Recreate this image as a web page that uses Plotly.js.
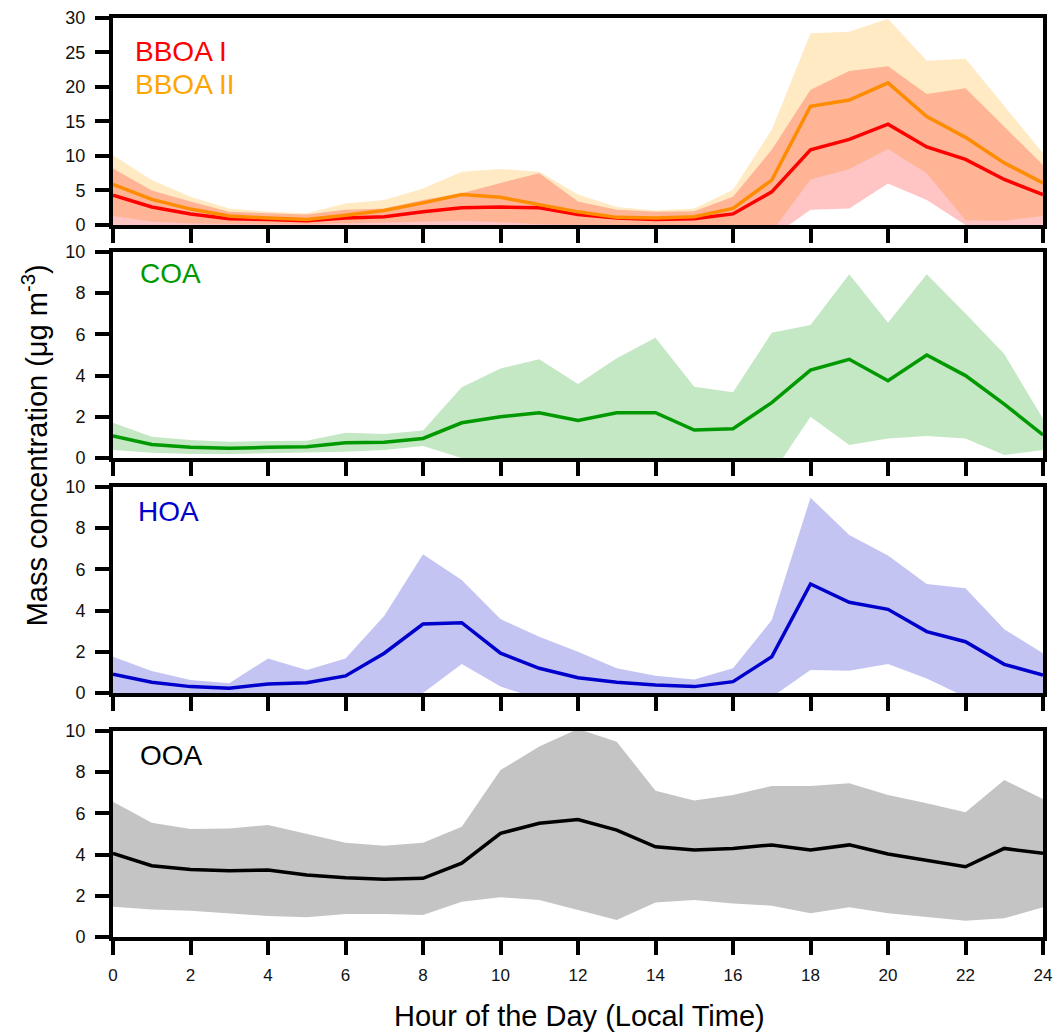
<!DOCTYPE html>
<html>
<head>
<meta charset="utf-8">
<script src="https://cdn.plot.ly/plotly-3.0.1.min.js"></script>
<style>html,body{margin:0;padding:0;background:#fff;}#chart{width:1060px;height:1036px;}</style>
</head>
<body>
<div id="chart"></div>
<script>
// Hour of day
var hours = [0,1,2,3,4,5,6,7,8,9,10,11,12,13,14,15,16,17,18,19,20,21,22,23,24];
var xTickVals = [0,2,4,6,8,10,12,14,16,18,20,22,24];

// BBOA I
var bboa1      = [4.3,2.6,1.6,0.9,0.8,0.6,1.0,1.2,1.9,2.5,2.6,2.5,1.5,1.0,0.8,0.9,1.6,4.8,10.9,12.4,14.6,11.3,9.5,6.6,4.4];
var bboa1Upper = [8.2,5.0,3.4,1.9,1.7,1.5,2.2,2.4,3.6,4.6,6.1,7.5,3.4,2.2,1.9,2.0,4.1,10.9,19.6,22.3,23.0,19.0,19.8,14.3,8.7];
var bboa1Lower = [0,0,0,0,0,0,0,0,0,0,0,0,0,0,0,0,0,-1.8,2.2,2.4,6.0,3.6,0,0,0];
// BBOA II
var bboa2      = [5.9,3.7,2.3,1.3,1.0,0.8,1.4,2.1,3.2,4.4,4.0,2.9,1.9,1.1,1.0,1.2,2.4,6.5,17.2,18.1,20.6,15.7,12.7,9.0,6.1];
var bboa2Upper = [10.1,6.5,4.1,2.4,1.9,1.7,3.1,3.6,5.3,7.7,8.1,7.7,4.4,2.6,2.1,2.4,5.1,13.8,27.8,28.0,29.9,23.8,24.1,17.2,10.4];
var bboa2Lower = [1.3,0.5,0.2,0.1,0.1,0.1,0.2,0.3,0.5,0.6,0.4,0.1,0,0,0,0,0,-1.0,6.6,8.1,11.0,7.5,0.7,0.6,1.3];
// COA
var coa      = [1.07,0.66,0.52,0.47,0.52,0.55,0.74,0.77,0.95,1.71,2.0,2.2,1.82,2.2,2.2,1.36,1.42,2.69,4.27,4.79,3.75,5.0,4.0,2.62,1.12];
var coaUpper = [1.71,1.03,0.87,0.79,0.82,0.84,1.23,1.17,1.33,3.43,4.35,4.79,3.59,4.84,5.84,3.46,3.19,6.08,6.46,8.92,6.57,8.92,7.02,5.05,1.9];
var coaLower = [0.39,0.26,0.19,0.19,0.23,0.26,0.31,0.39,0.58,0,0,0,0,0,0,0,0,-0.8,2.0,0.63,0.95,1.07,0.95,0.15,0.39];
// HOA
var hoa      = [0.91,0.52,0.31,0.23,0.44,0.50,0.83,1.93,3.35,3.41,1.93,1.2,0.74,0.52,0.39,0.31,0.55,1.76,5.29,4.4,4.06,2.98,2.49,1.39,0.87];
var hoaUpper = [1.76,1.07,0.63,0.47,1.68,1.12,1.68,3.75,6.73,5.49,3.59,2.73,2.0,1.2,0.84,0.66,1.2,3.54,9.48,7.67,6.67,5.29,5.08,3.09,1.93];
var hoaLower = [0,0,0,0,0,0,0,0,0,1.41,0.31,-0.3,0,0,0,0,0,-0.2,1.12,1.08,1.41,0.71,-0.2,0,0];
// OOA
var ooa      = [4.06,3.46,3.28,3.22,3.25,3.01,2.88,2.80,2.85,3.58,5.03,5.52,5.70,5.19,4.38,4.22,4.30,4.47,4.22,4.47,4.03,3.74,3.41,4.30,4.06];
var ooaUpper = [6.57,5.55,5.24,5.27,5.44,5.0,4.58,4.43,4.58,5.35,8.1,9.24,10.1,9.48,7.1,6.62,6.89,7.33,7.33,7.46,6.89,6.49,6.05,7.62,6.70];
var ooaLower = [1.47,1.34,1.28,1.15,1.02,0.96,1.12,1.12,1.07,1.71,1.93,1.80,1.31,0.83,1.67,1.80,1.63,1.52,1.15,1.44,1.15,0.96,0.79,0.91,1.44];

var FONT = "Arial, 'Liberation Sans', sans-serif";
var traces = [];
function band(lo, up, fillColor, xa, ya) {
  traces.push({x: hours, y: lo, type: 'scatter', mode: 'lines', line: {width: 0, color: 'rgba(0,0,0,0)'}, xaxis: xa, yaxis: ya, hoverinfo: 'skip'});
  traces.push({x: hours, y: up, type: 'scatter', mode: 'lines', fill: 'tonexty', fillcolor: fillColor, line: {width: 0, color: 'rgba(0,0,0,0)'}, xaxis: xa, yaxis: ya, hoverinfo: 'skip'});
}
function line(y, color, xa, ya) {
  traces.push({x: hours, y: y, type: 'scatter', mode: 'lines', line: {width: 3.5, color: color}, xaxis: xa, yaxis: ya});
}
band(bboa2Lower, bboa2Upper, 'rgba(255,165,0,0.23)', 'x', 'y');
band(bboa1Lower, bboa1Upper, 'rgba(255,0,0,0.23)', 'x', 'y');
line(bboa1, '#ff0000', 'x', 'y');
line(bboa2, '#ff8c00', 'x', 'y');
band(coaLower, coaUpper, 'rgba(0,153,0,0.23)', 'x2', 'y2');
line(coa, '#009900', 'x2', 'y2');
band(hoaLower, hoaUpper, 'rgba(0,0,204,0.23)', 'x3', 'y3');
line(hoa, '#0000cc', 'x3', 'y3');
band(ooaLower, ooaUpper, 'rgba(0,0,0,0.23)', 'x4', 'y4');
line(ooa, '#000000', 'x4', 'y4');

function xax(anchor, labels) {
  return {anchor: anchor, domain: [0, 1], range: [0, 24], tickvals: xTickVals, showticklabels: labels,
    showline: true, linecolor: '#000', linewidth: 4, mirror: true, ticks: 'outside', ticklen: 14, tickwidth: 4, tickcolor: '#000',
    showgrid: false, zeroline: false, tickfont: {family: FONT, size: 17, color: '#111'}, ticklabelstandoff: 6};
}
function yax(anchor, domain, range, dtick) {
  return {anchor: anchor, domain: domain, range: range, dtick: dtick, tick0: 0,
    showline: true, linecolor: '#000', linewidth: 4, mirror: true, ticks: 'outside', ticklen: 14, tickwidth: 4, tickcolor: '#000',
    showgrid: false, zeroline: false, tickfont: {family: FONT, size: 18, color: '#111'}, ticklabelstandoff: 6};
}

function label(text, color, xa, ya, xv, yv) {
  return {text: text, xref: xa, yref: ya, x: xv, y: yv, xanchor: 'left', yanchor: 'middle', showarrow: false,
    font: {family: FONT, size: 28, color: color}};
}

var layout = {
  width: 1060, height: 1036,
  margin: {l: 113, r: 17, t: 18, b: 99},
  paper_bgcolor: '#fff', plot_bgcolor: '#fff',
  showlegend: false,
  xaxis: xax('y', false),
  xaxis2: xax('y2', false),
  xaxis3: xax('y3', false),
  xaxis4: xax('y4', true),
  yaxis: yax('x', [0.7748, 1], [0, 30], 5),
  yaxis2: yax('x2', [0.5212, 0.7454], [0, 10], 2),
  yaxis3: yax('x3', [0.2655, 0.4897], [0, 10], 2),
  yaxis4: yax('x4', [0, 0.2242], [0, 10], 2),
  annotations: [
    label('BBOA I', '#ff0000', 'x', 'y', 0.52, 25.1),
    label('BBOA II', '#ffa500', 'x', 'y', 0.52, 20.3),
    label('COA', '#009900', 'x2', 'y2', 0.65, 8.95),
    label('HOA', '#0000cc', 'x3', 'y3', 0.6, 8.8),
    label('OOA', '#000000', 'x4', 'y4', 0.65, 8.8),
    {text: 'Mass concentration (μg m<sup>-3</sup>)', xref: 'paper', yref: 'paper', x: -0.0839, y: 0.535,
      xanchor: 'center', yanchor: 'middle', textangle: -90, showarrow: false, font: {family: FONT, size: 29, color: '#000'}},
    {text: 'Hour of the Day (Local Time)', xref: 'paper', yref: 'paper', x: 0.502, y: -0.086,
      xanchor: 'center', yanchor: 'middle', showarrow: false, font: {family: FONT, size: 29, color: '#000'}}
  ]
};

Plotly.newPlot('chart', traces, layout, {displayModeBar: false, staticPlot: true});
</script>
</body>
</html>
